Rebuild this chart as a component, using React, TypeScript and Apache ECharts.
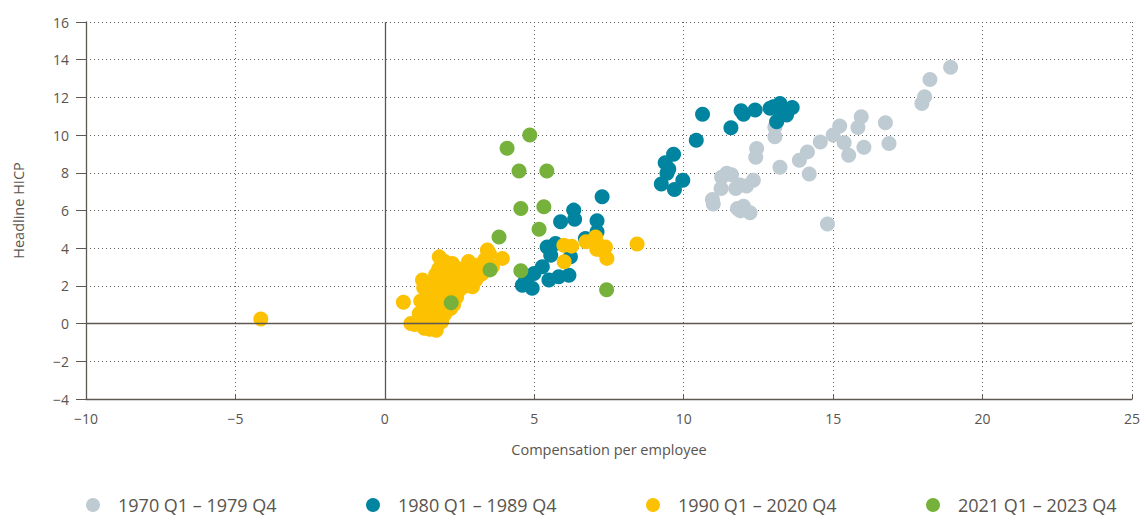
import React, { useEffect, useRef } from "react";
import * as echarts from "echarts";

const seriesNames = ["1970 Q1 – 1979 Q4", "1980 Q1 – 1989 Q4", "1990 Q1 – 2020 Q4", "2021 Q1 – 2023 Q4"];
const seriesColors = ["#bfcbd2", "#00849f", "#fcc100", "#76b23b"];

const xTicks = { min: -10, max: 25, interval: 5 };
const yTicks = { min: -4, max: 16, interval: 2 };

const data1970s: [number, number][] = [
  [18.93, 13.6], [18.24, 12.95], [18.06, 12.03], [17.97, 11.68], [16.75, 10.65], [16.87, 9.56],
  [15.94, 10.97], [15.83, 10.4], [16.03, 9.35], [15.52, 8.93], [15.22, 10.48], [15.0, 10.0],
  [15.37, 9.59], [14.57, 9.64], [14.14, 9.11], [13.87, 8.67], [14.2, 7.93], [14.81, 5.28],
  [13.22, 8.29], [12.44, 9.29], [12.41, 8.82], [13.05, 10.41], [13.05, 9.91], [12.33, 7.61],
  [11.44, 7.97], [11.27, 7.76], [11.89, 7.35], [11.74, 7.17], [11.25, 7.17], [10.96, 6.59],
  [10.99, 6.35], [11.8, 6.11], [12.0, 6.23], [12.22, 5.88], [11.9, 5.98], [13.1, 10.7],
  [11.6, 7.9], [12.1, 7.3],
];

const data1980s: [number, number][] = [
  [10.63, 11.1], [11.58, 10.39], [10.42, 9.73], [11.92, 11.29], [12.0, 11.11], [12.39, 11.33],
  [12.89, 11.42], [13.22, 11.68], [13.63, 11.47], [13.44, 11.06], [13.11, 10.71], [13.16, 11.33],
  [13.0, 11.5], [9.66, 8.99], [9.38, 8.53], [9.44, 7.97], [9.97, 7.61], [9.25, 7.4],
  [9.69, 7.12], [7.27, 6.73], [6.32, 6.02], [6.35, 5.53], [5.88, 5.4], [7.1, 5.45],
  [7.1, 4.87], [6.71, 4.52], [5.43, 4.07], [5.71, 4.25], [5.55, 3.63], [6.21, 3.54],
  [5.27, 3.01], [4.99, 2.66], [5.49, 2.31], [5.82, 2.48], [6.16, 2.57], [4.6, 2.04],
  [4.93, 1.87], [4.71, 2.31], [6.99, 4.43], [9.5, 8.2],
];

const data1990to2020: [number, number][] = [
  [-4.15, 0.24], [0.62, 1.13], [8.44, 4.22], [5.99, 4.16], [6.25, 4.11], [6.0, 3.28],
  [6.73, 4.34], [7.05, 4.6], [7.16, 4.16], [7.38, 4.07], [7.43, 3.46], [7.25, 3.9], [7.09, 3.95],
  [0.87, 0.01], [1.0, -0.05], [1.32, -0.25], [1.5, -0.3], [1.72, -0.35], [1.1, 0.0], [1.6, 0.05], [1.9, 0.1],
  [1.2, 0.5], [1.4, 0.3], [1.7, 0.4], [1.8, 0.6], [2.0, 0.5], [1.3, 0.7], [2.2, 0.8], [1.15, 0.54],
  [1.2, 1.2], [1.4, 1.0], [1.6, 1.1], [1.8, 0.9], [2.0, 1.2], [2.3, 1.0], [1.5, 1.4], [2.1, 1.5],
  [2.4, 1.4], [1.7, 1.6], [2.38, 1.6], [1.82, 0.89], [1.71, 0.36],
  [1.3, 1.9], [1.5, 2.0], [1.8, 1.8], [2.0, 2.0], [2.2, 1.9], [2.5, 1.8], [2.7, 2.0], [2.93, 1.95],
  [1.6, 2.2], [1.26, 2.31], [1.9, 2.4], [2.1, 2.3], [2.3, 2.5], [2.6, 2.4], [2.8, 2.3], [3.04, 2.31],
  [3.2, 2.6], [1.7, 2.6], [2.0, 2.7], [2.4, 2.2], [3.26, 2.66],
  [1.8, 2.9], [2.1, 3.0], [2.5, 2.9], [2.71, 2.93], [2.9, 3.0], [3.3, 2.9], [3.6, 3.01], [2.26, 3.19],
  [1.9, 3.2], [3.1, 3.1], [1.82, 3.54], [2.0, 3.3], [2.3, 3.0], [3.43, 3.9], [3.93, 3.46], [3.35, 3.4],
  [2.8, 3.3], [3.5, 3.7],
];

const data2021to2023: [number, number][] = [
  [4.85, 10.0], [4.09, 9.3], [4.49, 8.1], [5.42, 8.1], [4.55, 6.1], [5.32, 6.2],
  [5.16, 5.0], [3.82, 4.6], [3.52, 2.85], [4.55, 2.8], [7.42, 1.8], [2.22, 1.1],
];

const allData = [data1970s, data1980s, data1990to2020, data2021to2023];

const textColor = "#5a544e";
const axisColor = "#5e5852";
const fmt = (v: number) => String(v).replace("-", "\u2212");

export default function App() {
  const ref = useRef<HTMLDivElement>(null);
  useEffect(() => {
    if (!ref.current) return;
    const chart = echarts.init(ref.current, null, { renderer: "svg" });
    const legendLefts = [86, 366, 646, 926];
    chart.setOption({
      animation: false,
      backgroundColor: "#ffffff",
      textStyle: { fontFamily: "Open Sans" },
      grid: { left: 86, right: 8, top: 22, bottom: 119, containLabel: false },
      legend: seriesNames.map((name, i) => ({
        data: [name],
        left: legendLefts[i],
        top: 496,
        padding: 0,
        icon: "circle",
        itemWidth: 14,
        itemHeight: 14,
        selectedMode: false,
        textStyle: {
          color: textColor,
          fontSize: 18,
          lineHeight: 18,
          fontFamily: "Open Sans",
          padding: [0, 0, 0, 13],
        },
      })),
      xAxis: {
        type: "value",
        min: xTicks.min,
        max: xTicks.max,
        interval: xTicks.interval,
        name: "Compensation per employee",
        nameLocation: "middle",
        nameGap: 43,
        nameTextStyle: { color: textColor, fontSize: 14.5 },
        axisLine: { show: true, onZero: false, lineStyle: { color: axisColor, width: 1.3 } },
        axisTick: { show: true, inside: true, length: 4, lineStyle: { color: axisColor } },
        axisLabel: { color: textColor, fontSize: 14, margin: 12, formatter: fmt },
        splitLine: { show: true, lineStyle: { color: "#5f5f5f", type: [1, 3], width: 1 } },
      },
      yAxis: {
        type: "value",
        min: yTicks.min,
        max: yTicks.max,
        interval: yTicks.interval,
        name: "Headline HICP",
        nameLocation: "middle",
        nameGap: 60,
        nameTextStyle: { color: textColor, fontSize: 14.5 },
        axisLine: { show: true, onZero: false, lineStyle: { color: axisColor, width: 1.3 } },
        axisTick: { show: true, inside: false, length: 10, lineStyle: { color: axisColor } },
        axisLabel: { color: textColor, fontSize: 14, margin: 17, formatter: fmt },
        splitLine: { show: true, lineStyle: { color: "#5f5f5f", type: [1, 3], width: 1 } },
      },
      series: [
        {
          type: "scatter",
          data: [],
          silent: true,
          z: 1,
          markLine: {
            silent: true,
            symbol: "none",
            label: { show: false },
            lineStyle: { color: axisColor, type: "solid", width: 1.3 },
            data: [{ xAxis: 0 }, { yAxis: 0 }],
          },
        },
        ...seriesNames.map((name, i) => ({
          name,
          type: "scatter",
          data: allData[i],
          symbol: "circle",
          symbolSize: 15,
          z: 2 + i,
          itemStyle: { color: seriesColors[i], opacity: 1 },
        })),
      ],
    });
    return () => chart.dispose();
  }, []);
  return (
    <div
      ref={ref}
      style={{ position: "fixed", left: 0, top: 0, width: 1143, height: 518, background: "#fff" }}
    />
  );
}
